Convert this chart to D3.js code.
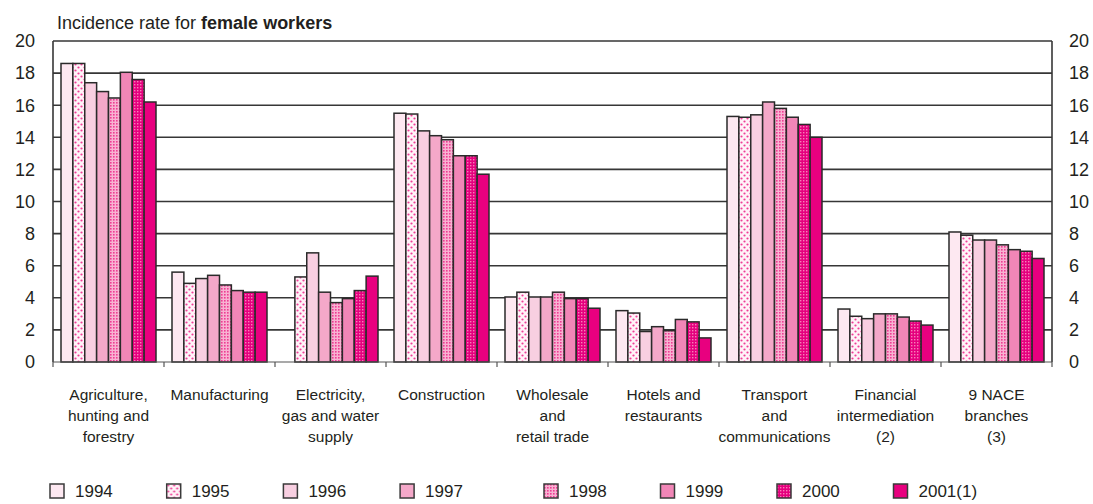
<!DOCTYPE html>
<html>
<head>
<meta charset="utf-8">
<script src="https://cdn.jsdelivr.net/npm/d3@7"></script>
<style>
  body { margin: 0; background: #fff; }
  svg { display: block; font-family: "Liberation Sans", Arial, sans-serif; }
</style>
</head>
<body>
<svg id="chart" width="1093" height="504"></svg>
<script>
// Incidence rate for female workers, by NACE branch and year
const categories = [
  ['Agriculture,', 'hunting and', 'forestry'],
  ['Manufacturing'],
  ['Electricity,', 'gas and water', 'supply'],
  ['Construction'],
  ['Wholesale', 'and', 'retail trade'],
  ['Hotels and', 'restaurants'],
  ['Transport', 'and', 'communications'],
  ['Financial', 'intermediation', '(2)'],
  ['9 NACE', 'branches', '(3)']
];
const years = ['1994', '1995', '1996', '1997', '1998', '1999', '2000', '2001(1)'];

const v1994 = [18.6, 5.6, null, 15.5, 4.05, 3.2, 15.3, 3.3, 8.1];
const v1995 = [18.6, 4.9, 5.3, 15.45, 4.35, 3.05, 15.25, 2.85, 7.9];
const v1996 = [17.4, 5.2, 6.8, 14.4, 4.05, 1.9, 15.4, 2.7, 7.6];
const v1997 = [16.85, 5.4, 4.35, 14.1, 4.05, 2.2, 16.2, 3.0, 7.6];
const v1998 = [16.45, 4.8, 3.7, 13.85, 4.35, 1.95, 15.8, 3.0, 7.3];
const v1999 = [18.05, 4.45, 3.95, 12.85, 3.95, 2.65, 15.25, 2.8, 7.0];
const v2000 = [17.6, 4.35, 4.45, 12.85, 3.95, 2.5, 14.8, 2.55, 6.9];
const v2001 = [16.2, 4.35, 5.35, 11.7, 3.35, 1.5, 14.0, 2.3, 6.45];
const series = [v1994, v1995, v1996, v1997, v1998, v1999, v2000, v2001];

const yTicks = [0, 2, 4, 6, 8, 10, 12, 14, 16, 18, 20];

// fills: plain colours or pattern ids
const fills = ['#fde8f1', 'url(#p1995)', '#f8cfe1', '#f4a8c9', 'url(#p1998)', '#f186b7', 'url(#p2000)', '#e8007f'];

const svg = d3.select('#chart');
const ink = '#231f20';

const plot = { left: 53, right: 1052, top: 41, bottom: 362 };

// patterns
const defs = svg.append('defs');
const p95 = defs.append('pattern').attr('id', 'p1995')
  .attr('patternUnits', 'userSpaceOnUse').attr('width', 6).attr('height', 6);
p95.append('rect').attr('width', 6).attr('height', 6).attr('fill', '#fff3f8');
p95.append('circle').attr('cx', 1.5).attr('cy', 1.5).attr('r', 1.1).attr('fill', '#f03d97');
p95.append('circle').attr('cx', 4.5).attr('cy', 4.5).attr('r', 1.1).attr('fill', '#f03d97');

const p98 = defs.append('pattern').attr('id', 'p1998')
  .attr('patternUnits', 'userSpaceOnUse').attr('width', 3).attr('height', 3);
p98.append('rect').attr('width', 3).attr('height', 3).attr('fill', '#f8b2d2');
p98.append('rect').attr('width', 1.6).attr('height', 1.6).attr('fill', '#ee3d94');

const p00 = defs.append('pattern').attr('id', 'p2000')
  .attr('patternUnits', 'userSpaceOnUse').attr('width', 3).attr('height', 3);
p00.append('rect').attr('width', 3).attr('height', 3).attr('fill', '#e5007e');
p00.append('rect').attr('width', 1.4).attr('height', 1.4).attr('fill', '#f77fb8');

const x0 = d3.scaleBand()
  .domain(d3.range(categories.length))
  .range([plot.left, plot.right]);

const x1 = d3.scaleBand()
  .domain(years)
  .range([8, x0.bandwidth() - 8]);

const y = d3.scaleLinear().domain([0, 20]).range([plot.bottom, plot.top]);

// gridlines
svg.append('g')
  .selectAll('line')
  .data(yTicks.filter(d => d > 0))
  .join('line')
  .attr('x1', plot.left).attr('x2', plot.right)
  .attr('y1', d => y(d)).attr('y2', d => y(d))
  .attr('stroke', '#363636').attr('stroke-width', 1.6);

// bars
const groups = svg.append('g')
  .selectAll('g')
  .data(categories.map((c, i) => i))
  .join('g')
  .attr('transform', i => `translate(${x0(i)},0)`);

groups.selectAll('rect')
  .data(i => years.map((yr, k) => ({ yr, k, v: series[k][i] })).filter(d => d.v != null))
  .join('rect')
  .attr('x', d => x1(d.yr))
  .attr('width', x1.bandwidth())
  .attr('y', d => y(d.v))
  .attr('height', d => y(0) - y(d.v))
  .attr('fill', d => fills[d.k])
  .attr('stroke', '#2a2a2a')
  .attr('stroke-width', 1.5);

// frame
svg.append('line').attr('x1', plot.left).attr('x2', plot.left).attr('y1', plot.top).attr('y2', plot.bottom)
  .attr('stroke', '#363636').attr('stroke-width', 1.6);
svg.append('line').attr('x1', plot.right).attr('x2', plot.right).attr('y1', plot.top).attr('y2', plot.bottom)
  .attr('stroke', '#363636').attr('stroke-width', 1.6);

// bottom axis with category boundary ticks
svg.append('line').attr('x1', plot.left).attr('x2', plot.right).attr('y1', plot.bottom).attr('y2', plot.bottom)
  .attr('stroke', '#555').attr('stroke-width', 1.2);
svg.append('g')
  .selectAll('line')
  .data(d3.range(categories.length + 1))
  .join('line')
  .attr('x1', i => plot.left + i * x0.bandwidth())
  .attr('x2', i => plot.left + i * x0.bandwidth())
  .attr('y1', plot.bottom).attr('y2', plot.bottom + 5)
  .attr('stroke', '#555').attr('stroke-width', 1.2);

// y tick labels, both sides
const yl = svg.append('g').attr('font-size', 18).attr('fill', ink);
yl.selectAll('text.l')
  .data(yTicks)
  .join('text')
  .attr('class', 'l')
  .attr('x', 35).attr('y', d => y(d))
  .attr('dy', '0.35em')
  .attr('text-anchor', 'end')
  .text(d => d);
yl.selectAll('text.r')
  .data(yTicks)
  .join('text')
  .attr('class', 'r')
  .attr('x', 1069).attr('y', d => y(d))
  .attr('dy', '0.35em')
  .text(d => d);

// category labels
const cl = svg.append('g').attr('font-size', 15.5).attr('fill', ink).attr('text-anchor', 'middle');
categories.forEach((lines, i) => {
  const t = cl.append('text').attr('x', x0(i) + x0.bandwidth() / 2).attr('y', 400);
  lines.forEach((ln, j) => {
    t.append('tspan').attr('x', x0(i) + x0.bandwidth() / 2).attr('y', 400 + j * 21).text(ln);
  });
});

// title
const title = svg.append('text').attr('x', 57).attr('y', 29).attr('font-size', 18).attr('fill', ink);
title.append('tspan').text('Incidence rate for ');
title.append('tspan').attr('font-weight', 'bold').text('female workers');

// legend
const lg = svg.append('g').attr('font-size', 17).attr('fill', ink);
const lgItems = lg.selectAll('g')
  .data(years)
  .join('g')
  .attr('transform', (d, i) => `translate(${i < 4 ? 50 + i * 116.7 : 544 + (i - 4) * 116.5},484)`);
lgItems.append('rect')
  .attr('width', 14).attr('height', 14)
  .attr('fill', (d, i) => fills[i])
  .attr('stroke', '#3a3a3a').attr('stroke-width', 1.5);
lgItems.append('text')
  .attr('x', 25).attr('y', 7).attr('dy', '0.36em')
  .text(d => d);
</script>
</body>
</html>
